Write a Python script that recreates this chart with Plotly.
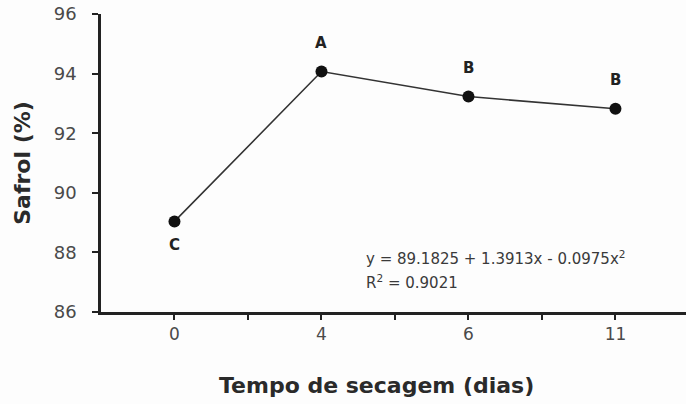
import plotly.graph_objects as go

days = ["0", "4", "6", "11"]
safrol = [89.04, 94.07, 93.23, 92.82]
letters = ["C", "A", "B", "B"]
letter_side = ["below", "above", "above", "above"]
y_ticks = [86, 88, 90, 92, 94, 96]
equation = "y = 89.1825 + 1.3913x - 0.0975x<sup>2</sup>"
r2_text = "R<sup>2</sup> = 0.9021"
x_title = "Tempo de secagem (dias)"
y_title = "Safrol (%)"

FONT = "DejaVu Sans, Liberation Sans, Arial"

xpos = [2 * i + 1 for i in range(len(days))]
tickvals = list(range(1, 2 * len(days)))
ticktext = []
for v in tickvals:
    ticktext.append(days[(v - 1) // 2] if v % 2 == 1 else "")

fig = go.Figure()
fig.add_trace(go.Scatter(
    x=xpos, y=safrol, mode="lines+markers",
    line=dict(color="#333333", width=1.6),
    marker=dict(color="#111111", size=12),
    showlegend=False, hoverinfo="skip",
))

for xp, yv, lab, side in zip(xpos, safrol, letters, letter_side):
    fig.add_annotation(
        x=xp, y=yv, text="<b>" + lab + "</b>", showarrow=False,
        yshift=(-24 if side == "below" else 29),
        font=dict(family=FONT, size=15, color="#222222"),
    )

fig.add_annotation(
    xref="paper", yref="paper", x=(364 - 101) / 585, y=(312 - 258) / 298,
    text=equation, showarrow=False, xanchor="left", yanchor="middle",
    font=dict(family=FONT, size=15, color="#3a3a3a"),
)
fig.add_annotation(
    xref="paper", yref="paper", x=(364 - 101) / 585, y=(312 - 282) / 298,
    text=r2_text, showarrow=False, xanchor="left", yanchor="middle",
    font=dict(family=FONT, size=15, color="#3a3a3a"),
)
fig.add_annotation(
    xref="paper", yref="paper", x=(376 - 101) / 585, y=(312 - 385) / 298,
    text="<b>" + x_title + "</b>", showarrow=False, xanchor="center", yanchor="middle",
    font=dict(family=FONT, size=22, color="#2a2a2a"),
)

fig.update_layout(
    width=686, height=404,
    margin=dict(l=101, r=0, t=14, b=92),
    paper_bgcolor="#fdfdfd", plot_bgcolor="#fdfdfd",
    font=dict(family=FONT, color="#444444"),
)
fig.update_xaxes(
    range=[0, 7.96], tickmode="array", tickvals=tickvals, ticktext=ticktext,
    showgrid=False, zeroline=False, showline=True, linecolor="#222222", linewidth=2.5,
    ticks="outside", ticklen=5, tickwidth=2, tickcolor="#222222",
    tickfont=dict(family=FONT, size=17, color="#4a4a4a"),
)
fig.update_yaxes(
    range=[86, 96], tickmode="array", tickvals=y_ticks,
    showgrid=False, zeroline=False, showline=True, linecolor="#222222", linewidth=2.5,
    ticks="outside", ticklen=6, tickwidth=2, tickcolor="#222222",
    ticklabelstandoff=12,
    tickfont=dict(family=FONT, size=18, color="#4a4a4a"),
    title=dict(text="<b>" + y_title + "</b>", standoff=18,
               font=dict(family=FONT, size=22, color="#2a2a2a")),
)

fig.write_html("out.html")
